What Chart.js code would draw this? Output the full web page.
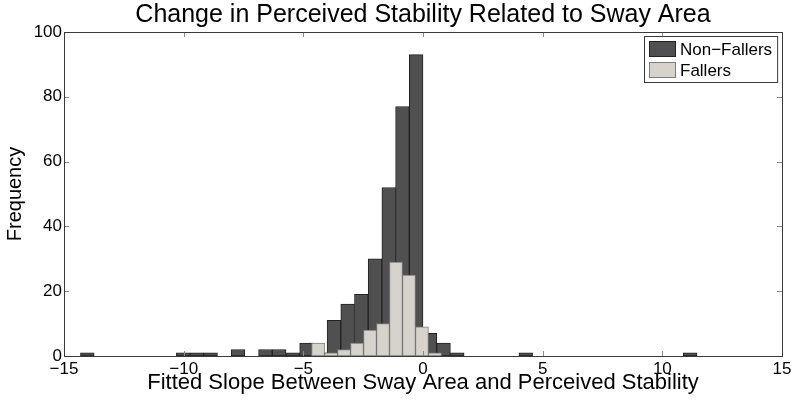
<!DOCTYPE html>
<html>
<head>
<meta charset="utf-8">
<script src="https://cdn.jsdelivr.net/npm/chart.js@4.4.1/dist/chart.umd.min.js"></script>
<style>
  html, body { margin: 0; padding: 0; background: #ffffff; }
  #wrap { width: 800px; height: 404px; }
</style>
</head>
<body>
<div id="wrap"><canvas id="c" width="800" height="404"></canvas></div>
<script>
// ---- Data ----
const seriesLabels = ['Non\u2212Fallers', 'Fallers'];

// Non-Fallers histogram: 45 bins of equal width starting at the left edge below
const nonFallerBinStart = -14.3125;
const nonFallerBinWidth = 0.5725;
const nonFallerCounts = [1, 0, 0, 0, 0, 0, 0, 1, 1, 1, 0, 2, 0, 2, 2, 1, 4, 1,
  11, 16, 19, 30, 52, 77, 93, 7, 4, 1, 0, 0, 0, 0, 1, 0, 0, 0, 0, 0, 0, 0, 0, 0, 0, 0, 1];

// Fallers histogram: 10 bins
const fallerBinStart = -4.655;
const fallerBinWidth = 0.5425;
const fallerCounts = [4, 1, 2, 4, 8, 10, 29, 25, 9, 1];

const xTickValues = [-15, -10, -5, 0, 5, 10, 15];
const yTickValues = [0, 20, 40, 60, 80, 100];

const titleText = 'Change in Perceived Stability Related to Sway Area';
const xTitle = 'Fitted Slope Between Sway Area and Perceived Stability';
const yTitle = 'Frequency';

// ---- Build chart points (bin centres) ----
const toPoints = (start, width, counts) =>
  counts.map((c, i) => ({ x: start + width * (i + 0.5), y: c }));

const FONT = "'Liberation Sans', Arial, Helvetica, sans-serif";
const minusFmt = v => (v < 0 ? '\u2212' + Math.abs(v) : String(v));

const boxAndTicks = {
  id: 'boxAndTicks',
  afterDatasetsDraw(chart) {
    const { ctx, chartArea: a, scales } = chart;
    const xs = scales.x, ys = scales.y;
    const L = 5;
    ctx.save();
    ctx.strokeStyle = '#8a8a8a';
    ctx.lineWidth = 1;
    ctx.beginPath();
    xTickValues.forEach(v => {
      const px = Math.round(xs.getPixelForValue(v)) + 0.5;
      ctx.moveTo(px, a.bottom); ctx.lineTo(px, a.bottom - L);
      ctx.moveTo(px, a.top); ctx.lineTo(px, a.top + L);
    });
    yTickValues.forEach(v => {
      const py = Math.round(ys.getPixelForValue(v)) + 0.5;
      ctx.moveTo(a.left, py); ctx.lineTo(a.left + L, py);
      ctx.moveTo(a.right, py); ctx.lineTo(a.right - L, py);
    });
    ctx.stroke();
    ctx.strokeStyle = '#3a3a3a';
    ctx.strokeRect(Math.round(a.left) + 0.5, Math.round(a.top) + 0.5,
      Math.round(a.right - a.left), Math.round(a.bottom - a.top));
    ctx.restore();
  },
  afterDraw(chart) {
    const { ctx, chartArea: a } = chart;
    ctx.save();
    ctx.font = '17px ' + FONT;
    const textW = Math.max(...chart.data.datasets.map(d => ctx.measureText(d.label).width));
    const sw = 27, sh = 16, pad = 5, gap = 4, rowH = 21;
    const w = pad + sw + gap + textW + 5;
    const h = 46;
    const x0 = Math.round(a.right - 5 - w), y0 = Math.round(a.top + 4);
    ctx.fillStyle = '#ffffff';
    ctx.fillRect(x0, y0, w, h);
    ctx.strokeStyle = '#3a3a3a';
    ctx.lineWidth = 1;
    ctx.strokeRect(x0 + 0.5, y0 + 0.5, w, h);
    chart.data.datasets.forEach((d, i) => {
      const sy = y0 + 5 + i * rowH;
      ctx.fillStyle = d.backgroundColor;
      ctx.fillRect(x0 + pad, sy, sw, sh);
      ctx.strokeStyle = d.borderColor;
      ctx.strokeRect(x0 + pad + 0.5, sy + 0.5, sw - 1, sh - 1);
      ctx.fillStyle = '#000000';
      ctx.textBaseline = 'middle';
      ctx.textAlign = 'left';
      ctx.fillText(d.label, x0 + pad + sw + gap, sy + sh / 2 + 1);
    });
    ctx.restore();
  }
};

const hiddenGrid = { display: false, drawTicks: false, offset: false };

new Chart(document.getElementById('c'), {
  type: 'bar',
  data: {
    datasets: [
      {
        label: seriesLabels[0],
        data: toPoints(nonFallerBinStart, nonFallerBinWidth, nonFallerCounts),
        xAxisID: 'x',
        backgroundColor: '#505050',
        borderColor: '#222222',
        borderWidth: 1,
        borderSkipped: false,
        barPercentage: 1,
        categoryPercentage: 1,
        grouped: false,
        order: 2
      },
      {
        label: seriesLabels[1],
        data: toPoints(fallerBinStart, fallerBinWidth, fallerCounts),
        xAxisID: 'x2',
        backgroundColor: '#d6d3cc',
        borderColor: '#7c7c7c',
        borderWidth: 1,
        borderSkipped: false,
        barPercentage: 1,
        categoryPercentage: 1,
        grouped: false,
        order: 1
      }
    ]
  },
  options: {
    responsive: false,
    animation: false,
    devicePixelRatio: 1,
    layout: { padding: { left: 0, right: 18, top: 0, bottom: 0 } },
    plugins: {
      legend: { display: false },
      tooltip: { enabled: false },
      title: {
        display: true,
        fullSize: false,
        text: titleText,
        color: '#000000',
        font: { family: FONT, size: 25, weight: 'normal' },
        padding: { top: 0, bottom: 2 }
      }
    },
    scales: {
      x: {
        type: 'linear',
        min: -15, max: 15,
        offset: false,
        afterBuildTicks: s => { s.ticks = xTickValues.map(v => ({ value: v })); },
        afterFit: s => { s.height = 48; },
        grid: hiddenGrid,
        border: { display: false },
        ticks: {
          color: '#000000',
          font: { family: FONT, size: 17 },
          padding: 3,
          maxRotation: 0,
          callback: minusFmt
        },
        title: {
          display: true,
          text: xTitle,
          color: '#000000',
          font: { family: FONT, size: 22 },
          padding: { top: 0, bottom: 8 }
        }
      },
      x2: {
        type: 'linear',
        min: -15, max: 15,
        offset: false,
        display: false,
        grid: hiddenGrid,
        afterBuildTicks: s => { s.ticks = xTickValues.map(v => ({ value: v })); }
      },
      y: {
        type: 'linear',
        min: 0, max: 100,
        afterBuildTicks: s => { s.ticks = yTickValues.map(v => ({ value: v })); },
        afterFit: s => { s.width = 64; },
        grid: hiddenGrid,
        border: { display: false },
        ticks: {
          color: '#000000',
          font: { family: FONT, size: 17 },
          padding: 2
        },
        title: {
          display: true,
          text: yTitle,
          color: '#000000',
          font: { family: FONT, size: 20 },
          padding: { top: 3, bottom: 0 }
        }
      }
    }
  },
  plugins: [boxAndTicks]
});
</script>
</body>
</html>
